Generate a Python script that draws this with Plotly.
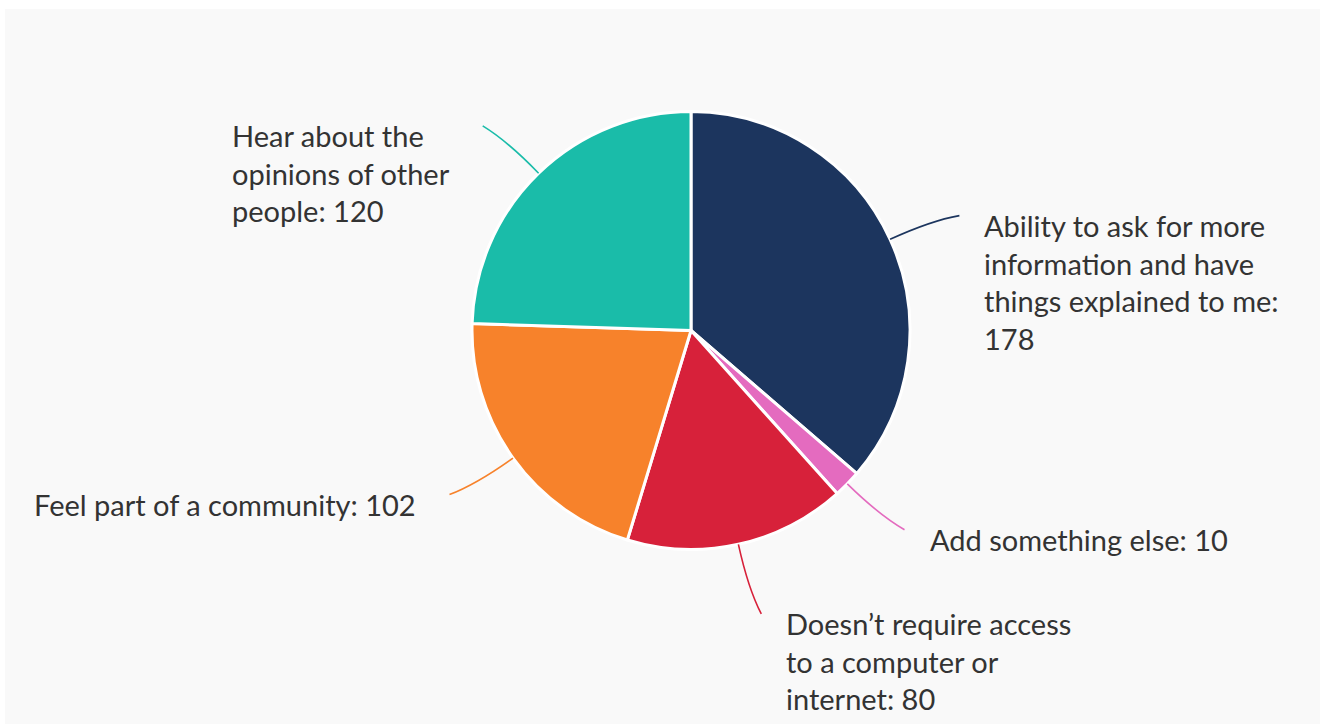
import math
import plotly.graph_objects as go

# Survey answers, in clockwise order starting at 12 o'clock
categories = [
    "Ability to ask for more<br>information and have<br>things explained to me:<br>178",
    "Add something else: 10",
    "Doesn’t require access<br>to a computer or<br>internet: 80",
    "Feel part of a community: 102",
    "Hear about the<br>opinions of other<br>people: 120",
]
values = [178, 10, 80, 102, 120]
colors = ["#1c355e", "#e46bbf", "#d7213a", "#f7822b", "#1abca9"]

W, H = 1320, 726
CX, CY, R = 691, 330.5, 219      # pie centre and radius (px)
CONNECTOR_LEN = 73               # length of label leader lines (px)

fig = go.Figure()

fig.add_trace(go.Pie(
    values=values,
    labels=categories,
    sort=False,
    direction="clockwise",
    rotation=0,
    marker=dict(colors=colors, line=dict(color="#ffffff", width=3)),
    textinfo="none",
    hoverinfo="label+value",
    showlegend=False,
    domain=dict(x=[(CX - R) / W, (CX + R) / W],
                y=[(H - CY - R) / H, (H - CY + R) / H]),
))

# invisible pixel-space axes for leader lines and labels
fig.update_xaxes(range=[0, W], visible=False, fixedrange=True)
fig.update_yaxes(range=[H, 0], visible=False, fixedrange=True)

shapes = [dict(type="rect", xref="x", yref="y", x0=5, x1=W, y0=9, y1=H - 2,
               fillcolor="#f9f9f9", line=dict(width=0), layer="below")]
annotations = []

total = sum(values)
cum = 0.0
for label, v, col in zip(categories, values, colors):
    mid = (cum + v / 2) / total * 2 * math.pi
    cum += v
    sx, sy = CX + R * math.sin(mid), CY - R * math.cos(mid)
    kx, ky = CX + (R + 45) * math.sin(mid), CY - (R + 45) * math.cos(mid)
    right = math.sin(mid) > 0
    end_a = mid + (0.025 if right == (math.cos(mid) > 0) else -0.025)
    ex, ey = CX + (R + CONNECTOR_LEN) * math.sin(end_a), CY - (R + CONNECTOR_LEN) * math.cos(end_a)
    shapes.append(dict(type="path", xref="x", yref="y",
                       path=f"M {sx:.1f},{sy:.1f} Q {kx:.1f},{ky:.1f} {ex:.1f},{ey:.1f}",
                       line=dict(color=col, width=1.6), layer="above"))
    annotations.append(dict(
        x=ex + (23 if right else -31), y=ey - 10, xref="x", yref="y",
        text=label, showarrow=False, align="left",
        xanchor="left" if right else "right", yanchor="top",
        font=dict(family="Lato", size=29, color="#333333"),
    ))

fig.update_layout(
    width=W, height=H,
    margin=dict(l=0, r=0, t=0, b=0),
    paper_bgcolor="#ffffff",
    plot_bgcolor="rgba(0,0,0,0)",
    shapes=shapes,
    annotations=annotations,
)

fig.write_html("out.html")
